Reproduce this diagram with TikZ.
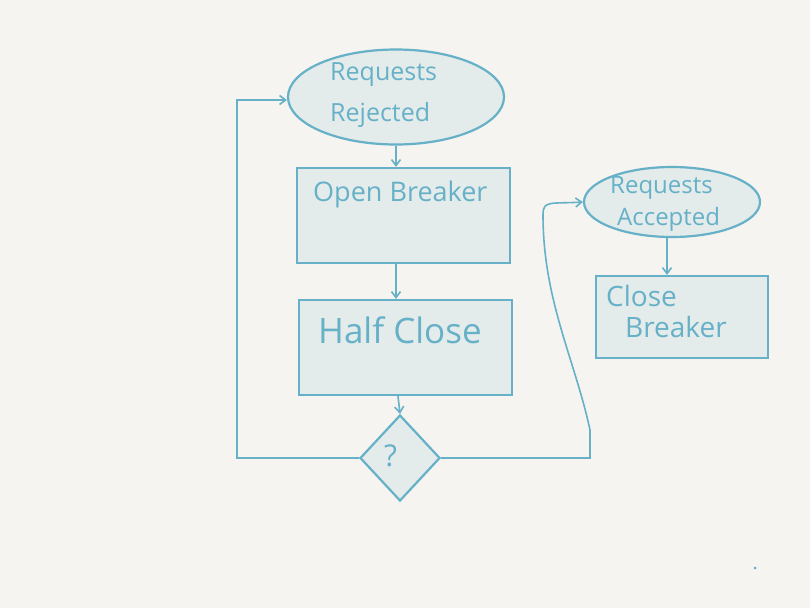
\documentclass[tikz,border=0pt]{standalone}
\usepackage{fontspec}
\setmainfont{Open Sans}
\usetikzlibrary{shapes.geometric,arrows.meta}
\definecolor{bg}{HTML}{F5F4F0}
\definecolor{ink}{HTML}{66B0C8}
\definecolor{pale}{HTML}{E3ECEA}
\tikzset{
  shapebox/.style={draw=ink, fill=pale, line width=2.2pt},
  conn/.style={draw=ink, line width=1.6pt, -{Straight Barb[length=6pt,width=9pt]}},
  lbl/.style={text=ink, font=\fontsize{25}{27}\selectfont, inner sep=0pt, anchor=west},
}
\begin{document}
\begin{tikzpicture}[x=1pt,y=-1pt]
\path[fill=bg] (0,0) rectangle (810,608);
\useasboundingbox (0,0) rectangle (810,608);
% shapes
\node[shapebox, ellipse, minimum width=216pt, minimum height=95pt] (rej) at (396,97) {};
\node[shapebox, rectangle, minimum width=213pt, minimum height=95pt] (open) at (403.5,215.5) {};
\node[shapebox, rectangle, minimum width=213pt, minimum height=95pt] (half) at (405.5,347.5) {};
\node[shapebox, diamond, minimum width=80pt, minimum height=86pt, inner sep=0pt] (q) at (400,458) {};
\node[shapebox, ellipse, minimum width=176pt, minimum height=70pt] (acc) at (672,202) {};
\node[shapebox, rectangle, minimum width=172pt, minimum height=82pt] (close) at (682,317) {};
% labels
\node[lbl] (t1) at (330,75) {Requests};
\node[lbl] (t2) at (330,115) {Rejected};
\node[lbl, font=\fontsize{27}{29}\selectfont] (t3) at (313,194) {Open Breaker};
\node[lbl, font=\fontsize{35}{37}\selectfont] (t4) at (318,330) {Half Close};
\node[lbl, font=\fontsize{30}{32}\selectfont] (t5) at (384,456) {?};
\node[lbl, font=\fontsize{24}{26}\selectfont] (t6) at (610,188) {Requests};
\node[lbl, font=\fontsize{24}{26}\selectfont] (t7) at (617,219) {Accepted};
\node[lbl, font=\fontsize{28}{30}\selectfont] (t8) at (606,296) {Close};
\node[lbl, font=\fontsize{28}{30}\selectfont] (t9) at (625,327) {Breaker};
% connectors
\coordinate (c2) at (237,100);
\coordinate (d2) at (543,215);
\draw[conn] (rej.south) -- (open.north -| rej.south);
\draw[conn] (open.south -| 396,0) -- (half.north -| 396,0);
\draw[conn] (half.south -| 398,0) -- (q.north);
\draw[conn] (q.west) -- (q.west -| c2) -- (c2) -- (c2 -| rej.west);
\draw[conn] (q.east) -- (q.east -| 590,0) -- (590,430) .. controls (575,360) and (543,300) .. (d2) .. controls (543,200) and (550,204) .. (acc.west);
\draw[conn] (acc.south -| 667,0) -- (close.north -| 667,0);
\fill[ink] (755,568) circle (1.5pt);
\end{tikzpicture}
\end{document}
